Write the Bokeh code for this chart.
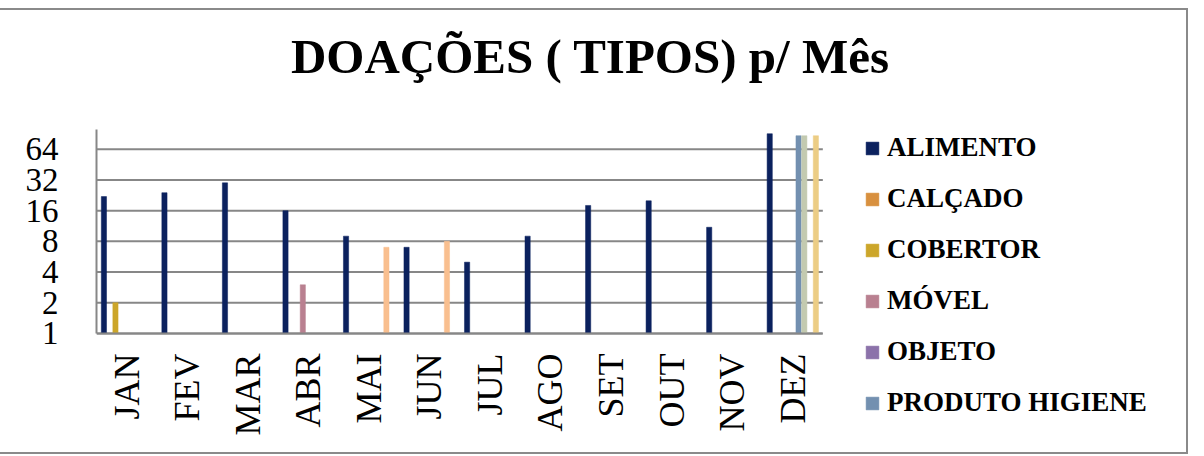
import math
from bokeh.plotting import figure
from bokeh.models import (Range1d, FixedTicker, PrintfTickFormatter,
                          Legend, LegendItem, Label, ColumnDataSource)
from bokeh.embed import file_html
from bokeh.resources import INLINE

# ---------------- data ----------------
months = ["JAN", "FEV", "MAR", "ABR", "MAI", "JUN", "JUL", "AGO", "SET", "OUT", "NOV", "DEZ"]
series_names = ["ALIMENTO", "CALÇADO", "COBERTOR", "MÓVEL", "OBJETO", "PRODUTO HIGIENE",
                "SÉRIE 7", "SÉRIE 8", "SÉRIE 9"]
alimento =        [22, 24, 30, 16, 9, 7, 5, 9, 18, 20, 11, 91]
calcado =         [0, 0, 0, 0, 0, 0, 0, 0, 0, 0, 0, 0]
cobertor =        [2, 0, 0, 0, 0, 0, 0, 0, 0, 0, 0, 0]
movel =           [0, 0, 0, 3, 0, 0, 0, 0, 0, 0, 0, 0]
objeto =          [0, 0, 0, 0, 0, 0, 0, 0, 0, 0, 0, 0]
produto_higiene = [0, 0, 0, 0, 0, 0, 0, 0, 0, 0, 0, 87]
serie7 =          [0, 0, 0, 0, 0, 0, 0, 0, 0, 0, 0, 87]
serie8 =          [0, 0, 0, 0, 7, 8, 0, 0, 0, 0, 0, 0]
serie9 =          [0, 0, 0, 0, 0, 0, 0, 0, 0, 0, 0, 87]
y_ticks = [1, 2, 4, 8, 16, 32, 64]
y_max = 100
title_text = "DOAÇÕES ( TIPOS) p/ Mês"

series_values = [alimento, calcado, cobertor, movel, objeto, produto_higiene, serie7, serie8, serie9]
colors = ["#0b215e", "#d8903f", "#cca62a", "#b98090", "#8c72aa", "#7390b0",
          "#c3cab0", "#f9bf8f", "#eccd85"]
legend_count = 6

SERIF = "Liberation Serif"
GRAY = "#878787"

# ---------------- layout geometry (page pixels) ----------------
FRAME_L, FRAME_R = 96, 1186      # frame spans to the right edge (legend lives inside)
PLOT_R = 821                     # right end of the bar area
FRAME_T, FRAME_B = 10, 452
Y1_PX, YMAX_PX = 330, 128        # where value 1 and y_max sit

month_px = (PLOT_R - FRAME_L) / len(months)
x_end = (FRAME_R - FRAME_L) / month_px
per_dbl = (Y1_PX - YMAX_PX) / math.log2(y_max)
y_lo = 2 ** (-(FRAME_B - Y1_PX) / per_dbl)
y_hi = 2 ** ((Y1_PX - FRAME_T) / per_dbl)


def px_to_x(px):
    return (px - FRAME_L) / month_px


def px_to_y(py):
    return 2 ** ((Y1_PX - py) / per_dbl)


p = figure(width=1188, height=446, title=None,
           x_range=Range1d(0, x_end), y_range=Range1d(y_lo, y_hi),
           y_axis_type="log", output_backend="svg", toolbar_location=None,
           min_border_left=FRAME_L, min_border_right=0,
           min_border_top=0, min_border_bottom=0)
p.outline_line_color = None
p.background_fill_color = "white"
p.border_fill_color = "white"
p.styles = {"margin-top": "8px",
            "border-top": "2px solid #8a8a8a",
            "border-right": "2px solid #8a8a8a",
            "border-bottom": "2px solid #8a8a8a"}

# horizontal grid lines, limited to the bar area
p.xgrid.visible = False
p.ygrid.visible = False
p.segment(x0=[0] * len(y_ticks), x1=[len(months)] * len(y_ticks), y0=y_ticks, y1=y_ticks,
          line_color=GRAY, line_width=2)

slot = 0.0953
bar_w = 0.086
start = 0.0796 + bar_w / 2

renderers = []
for i, (name, vals, col) in enumerate(zip(series_names, series_values, colors)):
    xs = [m + start + i * slot for m in range(len(months))]
    tops = [v if v > 0 else float("nan") for v in vals]
    src = ColumnDataSource(dict(x=xs, top=tops, month=months))
    r = p.vbar(x="x", top="top", bottom=1, width=bar_w, source=src,
               fill_color=col, line_color=col, line_width=0.5)
    renderers.append(r)

# y axis
ticker = FixedTicker(ticks=y_ticks)
p.yaxis.ticker = ticker
p.yaxis.bounds = (1, y_max)
p.yaxis.formatter = PrintfTickFormatter(format="%d")
p.yaxis.major_label_text_font_size = "33px"
p.yaxis.major_label_standoff = 32

# x axis, drawn at value 1
centers = [m + 0.5 for m in range(len(months))]
p.xaxis.ticker = FixedTicker(ticks=centers)
p.xaxis.major_label_overrides = {c: m for c, m in zip(centers, months)}
p.xaxis.bounds = (0, len(months))
p.xaxis.fixed_location = 1
p.xaxis.major_label_text_font_size = "36px"
p.xaxis.major_label_orientation = math.pi / 2
p.xaxis.major_label_standoff = 14

for ax in (p.xaxis[0], p.yaxis[0]):
    ax.axis_line_color = GRAY
    ax.axis_line_width = 2
    ax.major_tick_line_color = None
    ax.minor_tick_line_color = None
    ax.major_label_text_font = SERIF
    ax.major_label_text_color = "black"

title = Label(x=px_to_x(589), y=px_to_y(56), text=title_text,
              text_align="center", text_baseline="alphabetic",
              text_font=SERIF, text_font_style="bold", text_font_size="49px",
              text_color="black")
p.add_layout(title)

items = [LegendItem(label=series_names[i], renderers=[renderers[i]]) for i in range(legend_count)]
legend = Legend(items=items, location=(864 - FRAME_L, 38), orientation="vertical",
                glyph_width=16, glyph_height=16, label_standoff=7, spacing=20,
                padding=0, margin=0, border_line_color=None, background_fill_alpha=0,
                label_text_font=SERIF, label_text_font_style="bold",
                label_text_font_size="27px", label_height=30, label_text_color="black")
p.add_layout(legend)

open("out.html", "w").write(file_html(p, INLINE))
